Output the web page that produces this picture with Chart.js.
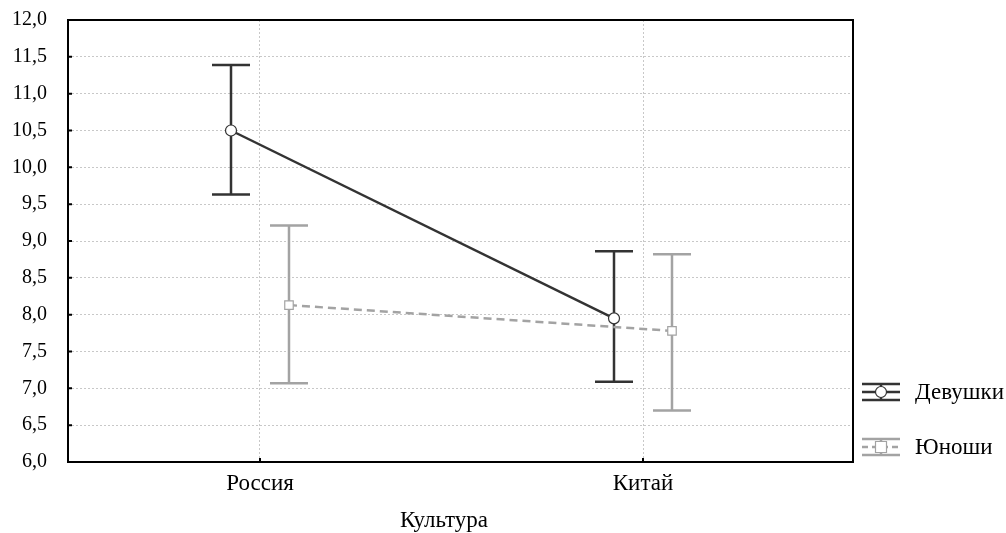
<!DOCTYPE html>
<html>
<head>
<meta charset="utf-8">
<script src="https://cdn.jsdelivr.net/npm/chart.js@4/dist/chart.umd.min.js"></script>
<style>
  html, body { margin: 0; padding: 0; background: #fff; }
  #wrap { width: 1006px; height: 533px; }
</style>
</head>
<body>
<div id="wrap"><canvas id="myChart" width="1006" height="533"></canvas></div>
<script>
// categories and series
var categories = ['Россия', 'Китай'];
var seriesNames = ['Девушки', 'Юноши'];
var axisTitle = 'Культура';
var girlsMean = [10.5, 7.95];
var girlsLow = [9.63, 7.09];
var girlsHigh = [11.39, 8.86];
var boysMean = [8.13, 7.78];
var boysLow = [7.07, 6.70];
var boysHigh = [9.21, 8.82];
var yTicks = [6, 6.5, 7, 7.5, 8, 8.5, 9, 9.5, 10, 10.5, 11, 11.5, 12];

var shift = 0.0757; // horizontal offset of each series from category centre
var dark = '#333333';
var grey = '#a3a3a3';
var font = '"Liberation Serif", "Times New Roman", serif';

function points(means, dx, low, high) {
    return means.map(function (m, i) {
        return { x: i + dx, y: m, lo: low[i], hi: high[i] };
    });
}

var errorBars = {
    id: 'errorBars',
    beforeDatasetsDraw: function (chart) {
        var ctx = chart.ctx;
        var xs = chart.scales.x, ys = chart.scales.y;
        chart.data.datasets.forEach(function (ds) {
            ctx.save();
            ctx.strokeStyle = ds.borderColor;
            ctx.lineWidth = 2.5;
            ds.data.forEach(function (p) {
                var x = xs.getPixelForValue(p.x);
                var y1 = ys.getPixelForValue(p.lo);
                var y2 = ys.getPixelForValue(p.hi);
                ctx.beginPath();
                ctx.moveTo(x, y1); ctx.lineTo(x, y2);
                ctx.moveTo(x - 19, y1); ctx.lineTo(x + 19, y1);
                ctx.moveTo(x - 19, y2); ctx.lineTo(x + 19, y2);
                ctx.stroke();
            });
            ctx.restore();
        });
    }
};

var frame = {
    id: 'frame',
    afterDatasetsDraw: function (chart) {
        var ctx = chart.ctx, a = chart.chartArea;
        var xs = chart.scales.x, ys = chart.scales.y;
        ctx.save();
        ctx.strokeStyle = '#000';
        ctx.lineWidth = 2;
        ctx.strokeRect(a.left, a.top, a.right - a.left, a.bottom - a.top);
        ctx.beginPath();
        yTicks.forEach(function (v) {
            var y = ys.getPixelForValue(v);
            ctx.moveTo(a.left, y); ctx.lineTo(a.left + 4, y);
        });
        categories.forEach(function (c, i) {
            var x = xs.getPixelForValue(i);
            ctx.moveTo(x, a.bottom); ctx.lineTo(x, a.bottom - 4);
        });
        ctx.stroke();
        ctx.restore();
    },
    afterDraw: function (chart) {
        var ctx = chart.ctx;
        ctx.save();
        // x axis title (a bit left of the plot centre, as in the original)
        ctx.fillStyle = '#000';
        ctx.font = '23px ' + font;
        ctx.textAlign = 'center';
        ctx.textBaseline = 'middle';
        ctx.fillText(axisTitle, 444, 521);

        // legend on the right
        var items = [
            { name: seriesNames[0], color: dark, y: 392, marker: 'circle', dash: [] },
            { name: seriesNames[1], color: grey, y: 447, marker: 'square', dash: [6, 4] }
        ];
        items.forEach(function (it) {
            var x0 = 862, x1 = 900, cy = it.y;
            ctx.strokeStyle = it.color;
            ctx.lineWidth = 2.5;
            ctx.setLineDash([]);
            ctx.beginPath();
            ctx.moveTo(x0, cy - 8); ctx.lineTo(x1, cy - 8);
            ctx.moveTo(x0, cy + 8); ctx.lineTo(x1, cy + 8);
            ctx.moveTo((x0 + x1) / 2, cy - 8); ctx.lineTo((x0 + x1) / 2, cy + 8);
            ctx.stroke();
            ctx.setLineDash(it.dash);
            ctx.beginPath();
            ctx.moveTo(x0, cy); ctx.lineTo(x1, cy);
            ctx.stroke();
            ctx.setLineDash([]);
            ctx.fillStyle = '#fff';
            ctx.lineWidth = 1.2;
            ctx.beginPath();
            if (it.marker === 'circle') {
                ctx.arc((x0 + x1) / 2, cy, 5.5, 0, Math.PI * 2);
            } else {
                ctx.rect((x0 + x1) / 2 - 5.5, cy - 5.5, 11, 11);
            }
            ctx.fill();
            ctx.stroke();
            ctx.fillStyle = '#000';
            ctx.textAlign = 'left';
            ctx.fillText(it.name, 915, cy + 1);
        });
        ctx.restore();
    }
};

var data = {
    datasets: [{
        label: seriesNames[0],
        data: points(girlsMean, -shift, girlsLow, girlsHigh),
        borderColor: dark,
        backgroundColor: '#fff',
        borderWidth: 2.5,
        pointStyle: 'circle',
        pointRadius: 5.5,
        pointBorderWidth: 1.2,
        showLine: true
    }, {
        label: seriesNames[1],
        data: points(boysMean, shift, boysLow, boysHigh),
        borderColor: grey,
        backgroundColor: '#fff',
        borderWidth: 2.5,
        borderDash: [8, 5],
        pointStyle: 'rect',
        pointRadius: 6,
        pointBorderWidth: 1.2,
        showLine: true
    }]
};

var ctx = document.getElementById('myChart').getContext('2d');
var myChart = new Chart(ctx, {
    type: 'scatter',
    data: data,
    options: {
        responsive: false,
        animation: false,
        layout: { padding: { top: 20, right: 153, left: 0, bottom: 0 } },
        plugins: { legend: { display: false }, tooltip: { enabled: false } },
        scales: {
            x: {
                type: 'linear',
                min: -0.5013,
                max: 1.5483,
                afterBuildTicks: function (scale) {
                    scale.ticks = categories.map(function (c, i) { return { value: i }; });
                },
                afterFit: function (scale) {
                    scale.height = 71;
                    scale.paddingLeft = 0;
                    scale.paddingRight = 0;
                },
                ticks: {
                    color: '#000',
                    font: { family: font, size: 23 },
                    padding: 8,
                    callback: function (v) { return categories[v]; }
                },
                grid: { color: '#c8c8c8', lineWidth: 1, tickLength: 0, drawTicks: false },
                border: { display: false, dash: [2, 2] }
            },
            y: {
                min: 6,
                max: 12,
                afterBuildTicks: function (scale) {
                    scale.ticks = yTicks.map(function (v) { return { value: v }; });
                },
                afterFit: function (scale) {
                    scale.width = 68;
                    scale.paddingTop = 0;
                    scale.paddingBottom = 0;
                },
                ticks: {
                    color: '#000',
                    font: { family: font, size: 20 },
                    padding: 21,
                    callback: function (v) { return v.toFixed(1).replace('.', ','); }
                },
                grid: { color: '#c8c8c8', lineWidth: 1, drawTicks: false },
                border: { display: false, dash: [2, 2] }
            }
        }
    },
    plugins: [errorBars, frame]
});
</script>
</body>
</html>
